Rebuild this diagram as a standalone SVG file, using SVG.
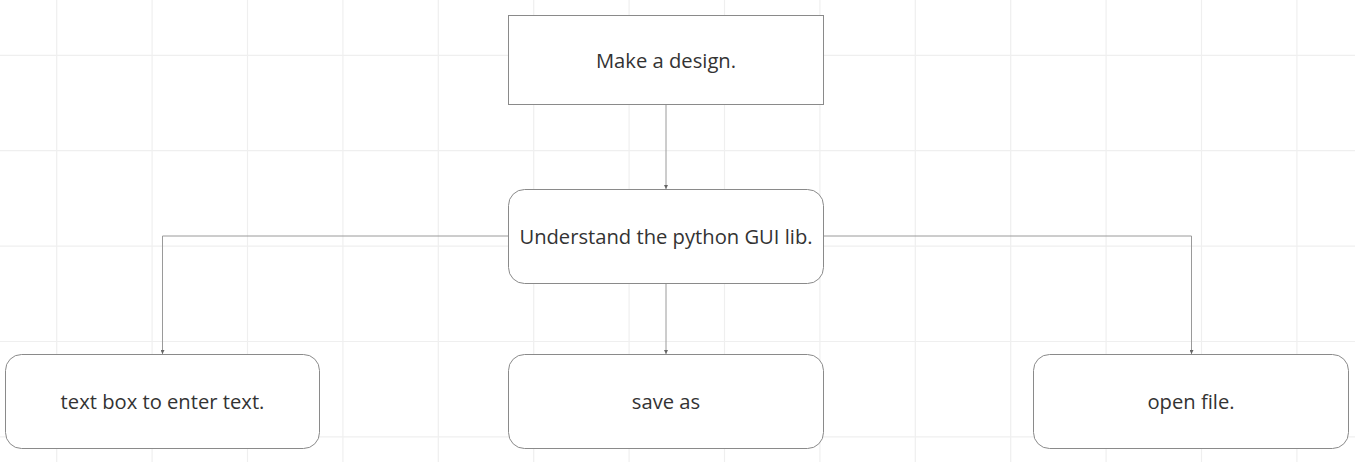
<svg xmlns="http://www.w3.org/2000/svg" width="1355" height="462" viewBox="0 0 1355 462">
<defs>
<style>
.grid line{stroke:#efefef;stroke-width:1.2}
.node rect{fill:#ffffff;stroke:#8a8a8a;stroke-width:1}
.node text{font-family:"Open Sans","Noto Sans",sans-serif;font-size:20.2px;fill:#333333;text-anchor:middle}
.conn path{fill:none;stroke:#9a9a9a;stroke-width:1}
</style>
<marker id="arr" viewBox="0 0 6 6" refX="6" refY="3" markerWidth="4" markerHeight="4" orient="auto" markerUnits="userSpaceOnUse">
<path d="M0,0 L6,3 L0,6 z" fill="#666"/>
</marker>
</defs>
<rect x="0" y="0" width="1355" height="462" fill="#ffffff"/>
<g class="grid">
<line x1="56.7" y1="0" x2="56.7" y2="462"/>
<line x1="152.1" y1="0" x2="152.1" y2="462"/>
<line x1="247.5" y1="0" x2="247.5" y2="462"/>
<line x1="342.9" y1="0" x2="342.9" y2="462"/>
<line x1="438.3" y1="0" x2="438.3" y2="462"/>
<line x1="533.7" y1="0" x2="533.7" y2="462"/>
<line x1="629.1" y1="0" x2="629.1" y2="462"/>
<line x1="724.5" y1="0" x2="724.5" y2="462"/>
<line x1="819.9" y1="0" x2="819.9" y2="462"/>
<line x1="915.3" y1="0" x2="915.3" y2="462"/>
<line x1="1010.7" y1="0" x2="1010.7" y2="462"/>
<line x1="1106.1" y1="0" x2="1106.1" y2="462"/>
<line x1="1201.5" y1="0" x2="1201.5" y2="462"/>
<line x1="1296.9" y1="0" x2="1296.9" y2="462"/>
<line x1="0" y1="55.3" x2="1355" y2="55.3"/>
<line x1="0" y1="150.7" x2="1355" y2="150.7"/>
<line x1="0" y1="246.1" x2="1355" y2="246.1"/>
<line x1="0" y1="341.5" x2="1355" y2="341.5"/>
<line x1="0" y1="436.9" x2="1355" y2="436.9"/>
</g>
<g class="conn">
<path d="M666,104.5 L666,189" marker-end="url(#arr)"/>
<path d="M666,283.5 L666,354" marker-end="url(#arr)"/>
<path d="M508.5,236 L162.5,236 L162.5,354" marker-end="url(#arr)"/>
<path d="M823.5,236 L1191.5,236 L1191.5,354" marker-end="url(#arr)"/>
</g>
<g id="node-design" class="node">
<rect x="508.5" y="15.5" width="315" height="89"/>
<text x="666" y="68">Make a design.</text>
</g>
<g id="node-gui" class="node">
<rect x="508.5" y="189.5" width="315" height="94" rx="16"/>
<text x="666" y="244">Understand the python GUI lib.</text>
</g>
<g id="node-textbox" class="node">
<rect x="5.5" y="354.5" width="314" height="94" rx="16"/>
<text x="162.5" y="409">text box to enter text.</text>
</g>
<g id="node-save" class="node">
<rect x="508.5" y="354.5" width="315" height="94" rx="16"/>
<text x="666" y="409">save as</text>
</g>
<g id="node-open" class="node">
<rect x="1033.5" y="354.5" width="315" height="94" rx="16"/>
<text x="1191" y="409">open file.</text>
</g>
</svg>
